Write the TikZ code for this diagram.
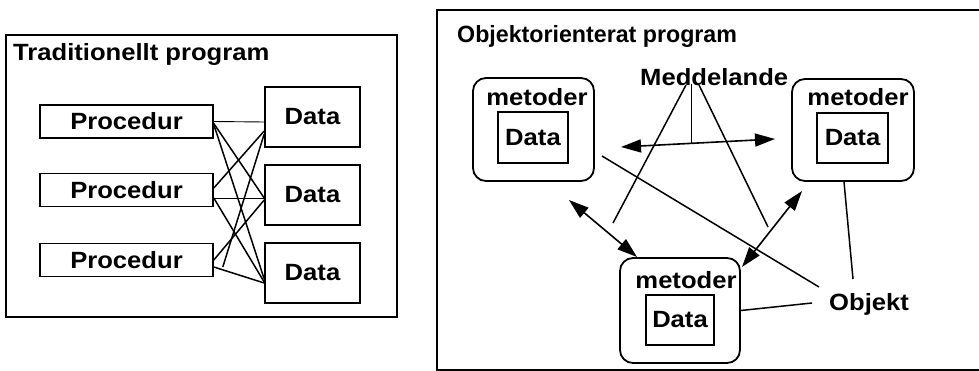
\documentclass[tikz,border=0pt]{standalone}
\usepackage{fontspec}
\setmainfont{Liberation Sans}[FakeStretch=1.09]
\usetikzlibrary{arrows.meta}
\begin{document}
\begin{tikzpicture}[x=1pt,y=-1pt,
  font=\fontsize{23.5}{28}\selectfont\bfseries,
  frame/.style={draw, line width=2pt},
  pbox/.style={draw, line width=1.6pt, inner sep=0pt, minimum width=173pt, minimum height=33pt},
  dbox/.style={draw, line width=1.6pt, inner sep=0pt, minimum width=95pt, minimum height=60pt},
  objbox/.style={draw, line width=1.8pt, rounded corners=13pt, inner sep=0pt},
  ibox/.style={draw, line width=1.5pt, inner sep=0pt},
  lbl/.style={inner sep=0pt, anchor=base},
  thinlink/.style={line width=0.9pt},
  link/.style={line width=1.5pt},
  msgarrow/.style={line width=1.6pt, {Triangle[length=20pt,width=13pt]}-{Triangle[length=20pt,width=13pt]}}
]
\clip (0,0) rectangle (979,371);
\useasboundingbox (0,0) rectangle (979,371);

% ---------- left frame ----------
\draw[frame] (6,35) rectangle (397,317);
\node[lbl, anchor=base west] (ltitle) at (13,61) {Traditionellt program};

\node[pbox] (p1) at (126.5,121.5) {Procedur};
\node[pbox] (p2) at (126.5,190) {Procedur};
\node[pbox] (p3) at (126.5,260) {Procedur};
\node[dbox] (d1) at (312.5,117) {Data};
\node[dbox] (d2) at (312.5,195) {Data};
\node[dbox] (d3) at (312.5,273) {Data};

\draw[thinlink] (p1.east) -- ([yshift=-5pt]d1.west);
\draw[link] ([yshift=-2pt]p1.east) -- ([yshift=-3pt]d2.west);
\draw[link] ([yshift=-3pt]p1.east) -- ([yshift=-6pt]d3.west);
\draw[link] ([yshift=2pt]p2.east) -- ([yshift=-14pt]d1.west);
\draw[thinlink] ([yshift=-8pt]p2.east) -- ([yshift=-3pt]d2.west);
\draw[link] ([yshift=-8pt]p2.east) -- ([yshift=-9pt]d3.west);
\draw[link] (p3.east) -- ([yshift=-5pt]d2.west);
\draw[link] ([xshift=9pt,yshift=-7pt]p3.east) -- ([yshift=-17pt]d1.west);
\draw[link] ([yshift=-7pt]p3.east) -- ([yshift=-10pt]d3.west);

% ---------- right frame ----------
\draw[frame] (437,10) rectangle (995,370);
\node[lbl, anchor=base west] (rtitle) at (457,43) {\scalebox{0.906}[1]{Objektorienterat program}};

\node[objbox, minimum width=121pt, minimum height=103pt] (oa) at (533.5,129.5) {};
\node[objbox, minimum width=122pt, minimum height=102pt] (ob) at (853,130) {};
\node[objbox, minimum width=120pt, minimum height=105pt] (oc) at (680,310.5) {};

\node[ibox, minimum width=70pt, minimum height=51pt] (da) at (533,137.5) {Data};
\node[ibox, minimum width=71pt, minimum height=50pt] (db) at (852.5,138) {Data};
\node[ibox, minimum width=68pt, minimum height=50pt] (dc) at (680,320) {Data};

\node[lbl] (ma) at (537,106) {metoder};
\node[lbl] (mb) at (858,106) {metoder};
\node[lbl] (mc) at (686,288) {metoder};

\node[lbl, anchor=base west] (msg) at (640,86) {Meddelande};
\node[lbl, anchor=base west] (objk) at (829,310) {Objekt};

% message symbol
\coordinate (hL) at (621,147);
\coordinate (hR) at (775,139);
\coordinate (hM) at (691,143);
\coordinate (stemTop) at (691,84);
\coordinate (apexL) at (686,85);
\coordinate (apexR) at (699,85);
\coordinate (legL) at (613,223);
\coordinate (legR) at (768,227);
\draw[msgarrow] (hL) -- (hR);
\draw[thinlink] (stemTop) -- (hM);
\draw[link] (apexL) -- (legL);
\draw[link] (apexR) -- (legR);

% arrows between objects
\coordinate (acA) at (569,200);
\coordinate (acC) at (637,257);
\coordinate (cbC) at (742,267);
\coordinate (cbB) at (802,191);
\draw[msgarrow] (acA) -- (acC);
\draw[msgarrow] (cbC) -- (cbB);

% lines to "Objekt"
\coordinate (oaOut) at (602,156);
\coordinate (objA) at (819,287);
\coordinate (objB) at (853,279);
\coordinate (objC) at (812,303);
\draw[link] (oaOut) -- (objA);
\draw[link] ([xshift=-9pt]ob.south) -- (objB);
\draw[link] (oc.east) -- (objC);
\end{tikzpicture}
\end{document}
